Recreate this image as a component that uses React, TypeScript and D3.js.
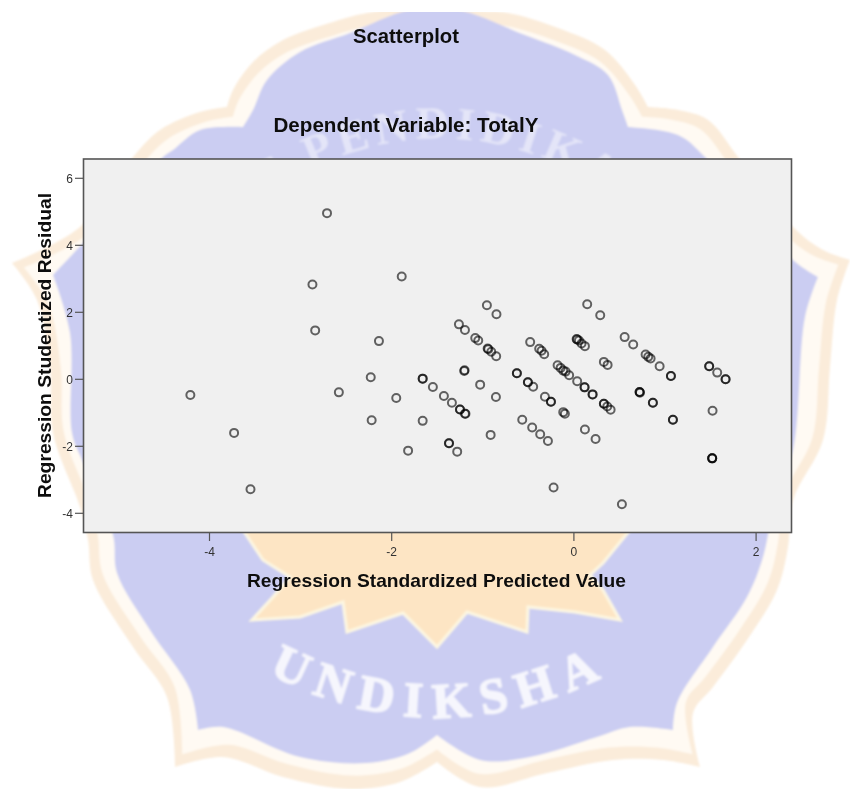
import React from "react";
import * as d3 from "d3";

const title = "Scatterplot";
const subtitle = "Dependent Variable: TotalY";
const xLabel = "Regression Standardized Predicted Value";
const yLabel = "Regression Studentized Residual";
const xTicks = [-4, -2, 0, 2];
const yTicks = [-4, -2, 0, 2, 4, 6];

const predicted = [
  -4.21, -3.73, -3.55, -2.71, -2.87, -2.84, -2.58, -2.23, -2.22, -2.14, -1.89, -1.95, -1.82,
  -1.66, -1.66, -1.66, -1.548, -1.427, -1.339, -1.251, -1.25, -1.196, -1.19, -1.372, -1.37, -1.281,
  -1.204, -1.2, -1.029, -0.856, -0.914,
  -0.955, -0.85, 0.146, 0.289, -1.262, -1.196, -1.083, -1.05, -0.947, -0.94, -0.907, -0.853,
  -0.48, -0.381, -0.355, -0.326, 0.03, 0.035, 0.055, 0.084, 0.121, 0.329, 0.37,
  0.557, 0.651, 0.787, 0.816, 0.842, 0.941, 1.065, 1.065, 1.485, 1.485, 1.573, 1.665, 1.665, 1.522,
  1.518, 1.518, 1.518, 1.087, 1.087, 0.867, 0.867, 0.721, 0.721, 0.725, 0.527, -0.223, 0.238, 0.121,
  -0.285, -0.37, -0.458, -0.567, -0.099, -0.117, -0.252, -0.252, -0.318, -0.447, -0.505, -0.505,
  -0.626, -0.626, -0.179, -0.146, -0.117, -0.091, -0.052, 0.036, 0.117, 0.117, 0.205, 0.205,
  0.329, 0.329, 0.366, 0.403,
];
const residuals = [
  -0.47, -1.6, -3.28, 4.96, 2.83, 1.46, -0.39, 0.06, -1.22, 1.14, 3.07, -0.56, -2.13,
  0.02, 0.02, -1.24, -0.23, -0.5, -0.7, -0.9, -0.9, -1.03, -1.03, -1.91, -1.91, -2.16,
  0.25, 0.27, -0.16, -0.53, -1.66,
  2.21, 1.94, 2.24, 1.91, 1.64, 1.47, 1.23, 1.16, 0.92, 0.9, 0.82, 0.69,
  1.11, 0.91, 0.85, 0.75, 1.2, 1.19, 1.16, 1.07, 0.99, 0.52, 0.43,
  1.26, 1.04, 0.74, 0.67, 0.62, 0.39, 0.1, 0.1, 0.39, 0.39, 0.2, 0, 0, -0.94,
  -2.36, -2.36, -2.36, -1.21, -1.21, -0.7, -0.7, -0.38, -0.38, -0.4, -3.73, -3.23, -1.78, -1.5,
  -1.84, -1.64, -1.44, -1.21, -1.03, -0.98, -0.67, -0.67, -0.52, -0.22, -0.09, -0.09,
  0.18, 0.18, 0.42, 0.34, 0.26, 0.23, 0.12, -0.06, -0.24, -0.24, -0.45, -0.45,
  -0.73, -0.73, -0.81, -0.91,
];

const W = 850;
const H = 789;
const frame = { left: 83.5, right: 791.5, top: 159, bottom: 532.5 };
const x = d3.scaleLinear().domain([-4, 2]).range([209.5, 756.1]);
const y = d3.scaleLinear().domain([-4, 6]).range([513.3, 178.3]);

type Pt = [number, number];
// Watermark outline segments: each list runs from one sharp cusp to the next.
const outerSegs: Pt[][] = [
  [[227, 107], [233, 90], [253, 62], [283, 40], [333, 22], [367, 13], [420, 8], [475, 11], [508, 13], [558, 28], [605, 50], [635, 85], [648, 107]],
  [[648, 107], [678, 110], [708, 120], [738, 157], [793, 227], [823, 250], [850, 260]],
  [[850, 260], [837, 300], [830, 367], [823, 440], [793, 500], [788, 547], [777, 590], [747, 640], [713, 687], [693, 713], [700, 767]],
  [[700, 767], [663, 760], [613, 760], [547, 773], [480, 787], [437, 762]],
  [[437, 762], [400, 782], [350, 789], [283, 777], [223, 757], [175, 767]],
  [[175, 767], [167, 697], [133, 647], [93, 580], [88, 540], [80, 507], [53, 433], [50, 367], [37, 300], [12, 263]],
  [[12, 263], [80, 227], [133, 157], [160, 130], [200, 112], [227, 107]],
];
const innerSegs: Pt[][] = [
  [[243, 127], [253, 110], [267, 80], [300, 52], [350, 33], [410, 10], [458, 10], [525, 35], [575, 55], [608, 75], [622, 110], [628, 127]],
  [[628, 127], [678, 135], [705, 157], [793, 260], [818, 277]],
  [[818, 277], [805, 317], [793, 450], [775, 500], [763, 557], [747, 597], [713, 647], [677, 703], [673, 730]],
  [[673, 730], [630, 727], [597, 737], [530, 757], [480, 760], [437, 735]],
  [[437, 735], [410, 753], [367, 763], [300, 757], [223, 727], [198, 730]],
  [[198, 730], [190, 690], [150, 630], [117, 573], [113, 535], [82, 460], [72, 433], [70, 333], [53, 275]],
  [[53, 275], [100, 225], [163, 157], [173, 150], [200, 130], [243, 127]],
];
const gapSegs: Pt[][] = outerSegs.map((s) => s.map(([a, b]) => [a + (437 - a) * 0.028, b + (395 - b) * 0.034] as Pt));
const lotusPts: Pt[] = [
  [243, 530], [263, 560], [290, 577], [273, 597], [252, 620], [300, 617], [343, 602], [347, 632], [403, 613],
  [437, 647], [467, 612], [527, 632], [528, 607], [575, 612], [620, 620], [603, 590], [590, 575], [603, 563],
  [630, 530],
];

const segLine = d3.line().curve(d3.curveCatmullRom.alpha(0.5));
const outline = (segs: Pt[][]) =>
  segs
    .map((s, i) => {
      const d = segLine(s) as string;
      return i === 0 ? d : d.replace(/^M[^CLQ]*/, "");
    })
    .join("") + "Z";
const poly = (pts: Pt[]) => d3.line()(pts) + "Z";

export default function App() {
  const sans = "'Liberation Sans', Arial, sans-serif";
  return (
    <svg width={W} height={H} style={{ position: "absolute", left: 0, top: 0, display: "block" }}>
      <defs>
        <filter id="soft"><feGaussianBlur stdDeviation="0.8" /></filter>
        <filter id="ink"><feGaussianBlur stdDeviation="0.4" /></filter>
        <clipPath id="topCut"><rect x={0} y={12} width={W} height={H} /></clipPath>
        <path id="arcBottom" d="M245,660 Q436,775 635,660" fill="none" />
        <path id="arcTop" d="M215,231 Q440,46 665,231" fill="none" />
      </defs>
      <rect width={W} height={H} fill="#fff" />
      <g filter="url(#soft)" clipPath="url(#topCut)">
        <path d={outline(outerSegs)} fill="#fbecda" />
        <path d={outline(gapSegs)} fill="#fffaf3" />
        <path d={outline(innerSegs)} fill="#cbcdf2" />
        <path d={poly(lotusPts)} fill="#fde5c4" stroke="#fdf7e2" strokeWidth={3} />
        <text fontFamily="'Liberation Serif', serif" fontWeight="bold" fontSize={50} fill="#f6f6fd" stroke="#f6f6fd" strokeWidth={1.5} letterSpacing={11}>
          <textPath href="#arcBottom" startOffset="50%" textAnchor="middle">UNDIKSHA</textPath>
        </text>
        <text fontFamily="'Liberation Serif', serif" fontWeight="bold" fontSize={46} fill="#e4e5f8" letterSpacing={6}>
          <textPath href="#arcTop" startOffset="50%" textAnchor="middle">AS PENDIDIKAN</textPath>
        </text>
      </g>

      <g filter="url(#ink)">
        <text x={406} y={43} textAnchor="middle" fontFamily={sans} fontWeight="bold" fontSize={20} textLength={106} lengthAdjust="spacingAndGlyphs" fill="#111">{title}</text>
        <text x={406} y={132} textAnchor="middle" fontFamily={sans} fontWeight="bold" fontSize={20} textLength={265} lengthAdjust="spacingAndGlyphs" fill="#111">{subtitle}</text>

        <rect x={frame.left} y={frame.top} width={frame.right - frame.left} height={frame.bottom - frame.top} fill="#f0f0f0" stroke="#555" strokeWidth={1.6} />

        {yTicks.map((t) => (
          <g key={t}>
            <line x1={75} x2={frame.left} y1={y(t)} y2={y(t)} stroke="#555" strokeWidth={1.2} />
            <text x={73} y={y(t) + 4.5} textAnchor="end" fontFamily={sans} fontSize={12} fill="#333">{t}</text>
          </g>
        ))}
        {xTicks.map((t) => (
          <g key={t}>
            <line x1={x(t)} x2={x(t)} y1={frame.bottom} y2={541} stroke="#555" strokeWidth={1.2} />
            <text x={x(t)} y={556} textAnchor="middle" fontFamily={sans} fontSize={12} fill="#333">{t}</text>
          </g>
        ))}

        {predicted.map((p, i) => (
          <circle key={i} cx={x(p)} cy={y(residuals[i])} r={4} fill="none" stroke="#000" strokeOpacity={0.6} strokeWidth={2} />
        ))}

        <text x={436.5} y={587} textAnchor="middle" fontFamily={sans} fontWeight="bold" fontSize={19} textLength={379} lengthAdjust="spacingAndGlyphs" fill="#111">{xLabel}</text>
        <text transform="translate(51,345.5) rotate(-90)" textAnchor="middle" fontFamily={sans} fontWeight="bold" fontSize={19} textLength={305} lengthAdjust="spacingAndGlyphs" fill="#111">{yLabel}</text>
      </g>
    </svg>
  );
}
